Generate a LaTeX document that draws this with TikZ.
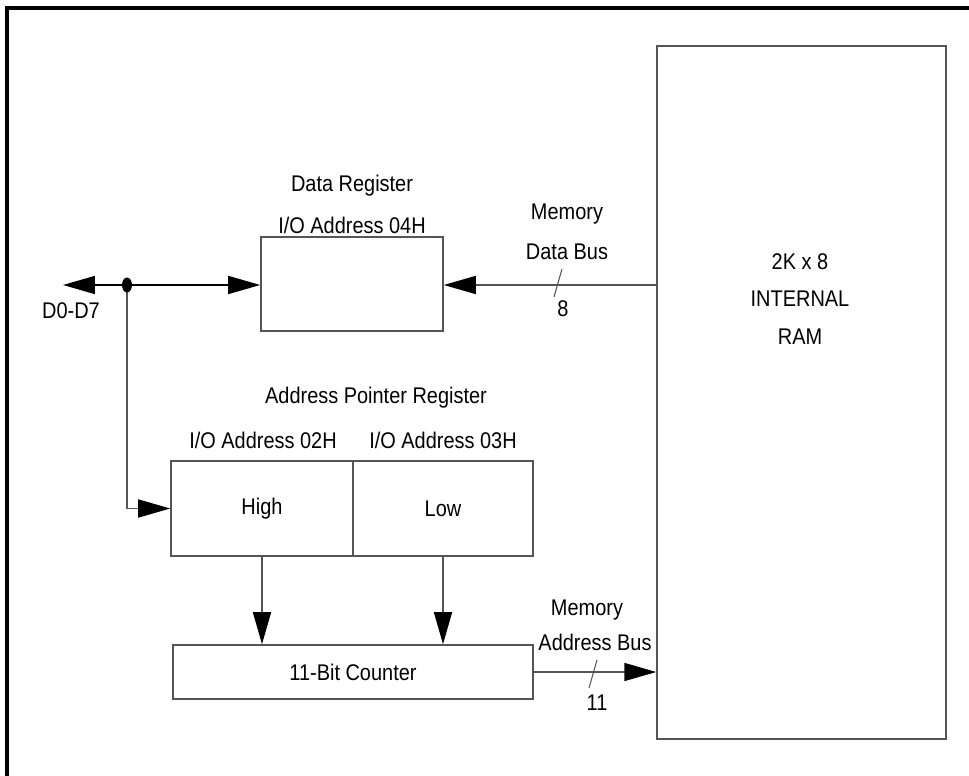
\documentclass[tikz,border=0pt]{standalone}
\usepackage{fontspec}
\setmainfont[FakeStretch=0.88]{Liberation Sans}
\usepackage{tikz}
\usetikzlibrary{arrows.meta, positioning, calc, shapes.geometric}
\definecolor{Wire_Gray}{HTML}{555555}
\definecolor{Frame_Black}{HTML}{000000}

\begin{document}
\begin{tikzpicture}[
    x=0.02cm, y=-0.02cm,
    box/.style={draw=Wire_Gray, line width=0.9pt, inner sep=0pt, anchor=center, font=\fontsize{12.9}{14}\selectfont},
    lbl/.style={inner sep=0pt, font=\fontsize{12.9}{14}\selectfont},
    wire/.style={draw=Wire_Gray, line width=0.9pt},
    tip/.style={-{Triangle[length=0.64cm, width=0.36cm, color=black, fill=black]}}
]
\useasboundingbox (0,0) rectangle (969,776);
% outer frame (only top and left edge show)
\draw[Frame_Black, line width=2pt] (7,800) -- (7,8) -- (990,8);

% blocks
\node[box, minimum width=5.78cm, minimum height=13.86cm] (ram) at (801.5, 392.5) {};
\node[box, minimum width=3.64cm, minimum height=1.88cm] (dreg) at (352, 284) {};
\node[box, minimum width=3.64cm, minimum height=1.90cm] (high) at (262, 508.5) {High};
\node[box, minimum width=3.60cm, minimum height=1.90cm] (low) at (443, 508.5) {Low};
\node[box, minimum width=7.20cm, minimum height=1.08cm] (cnt) at (353, 672) {11-Bit Counter};

% labels
\node[lbl] (ramA) at (800, 262) {2K x 8};
\node[lbl] (ramB) at (800, 299) {INTERNAL};
\node[lbl] (ramC) at (800, 337) {RAM};
\node[lbl] (dregA) at (352, 186) {Data Register};
\node[lbl] (dregB) at (352, 225) {I/O Address 04H};
\node[lbl] (aprA) at (376, 398) {Address Pointer Register};
\node[lbl] (aprB) at (263, 440) {I/O Address 02H};
\node[lbl] (aprC) at (443, 440) {I/O Address 03H};
\node[lbl] (mdbA) at (567, 214) {Memory};
\node[lbl] (mdbB) at (567, 252) {Data Bus};
\node[lbl] (mdbW) at (563, 309) {8};
\node[lbl] (mabA) at (587, 610) {Memory};
\node[lbl] (mabB) at (595, 642) {Address Bus};
\node[lbl] (mabW) at (597, 703) {11};
\node[lbl] (dbus) at (71, 311) {D0-D7};

% connectors
\coordinate (dleft) at (63, 285);
\coordinate (tap) at (127, 285);
\draw[wire, tip] (ram.west |- 0,285) -- (dreg.east |- 0,285);
\draw[wire, draw=black, tip] (tap) -- (dleft);
\draw[wire, draw=black, tip] (tap) -- (dreg.west |- tap);
\draw[wire, tip] (tap) |- (high.west);
\fill[black] (tap) ellipse (0.1cm and 0.15cm);
\draw[wire, tip] (high.south) -- (high.south |- cnt.north);
\draw[wire, tip] (low.south) -- (low.south |- cnt.north);
\draw[wire, tip] (cnt.east) -- (ram.west |- cnt.east);

% bus width ticks
\draw[wire, line width=0.6pt] (554, 297) -- (562, 269);
\draw[wire, line width=0.6pt] (589, 688) -- (597, 660);
\end{tikzpicture}
\end{document}
